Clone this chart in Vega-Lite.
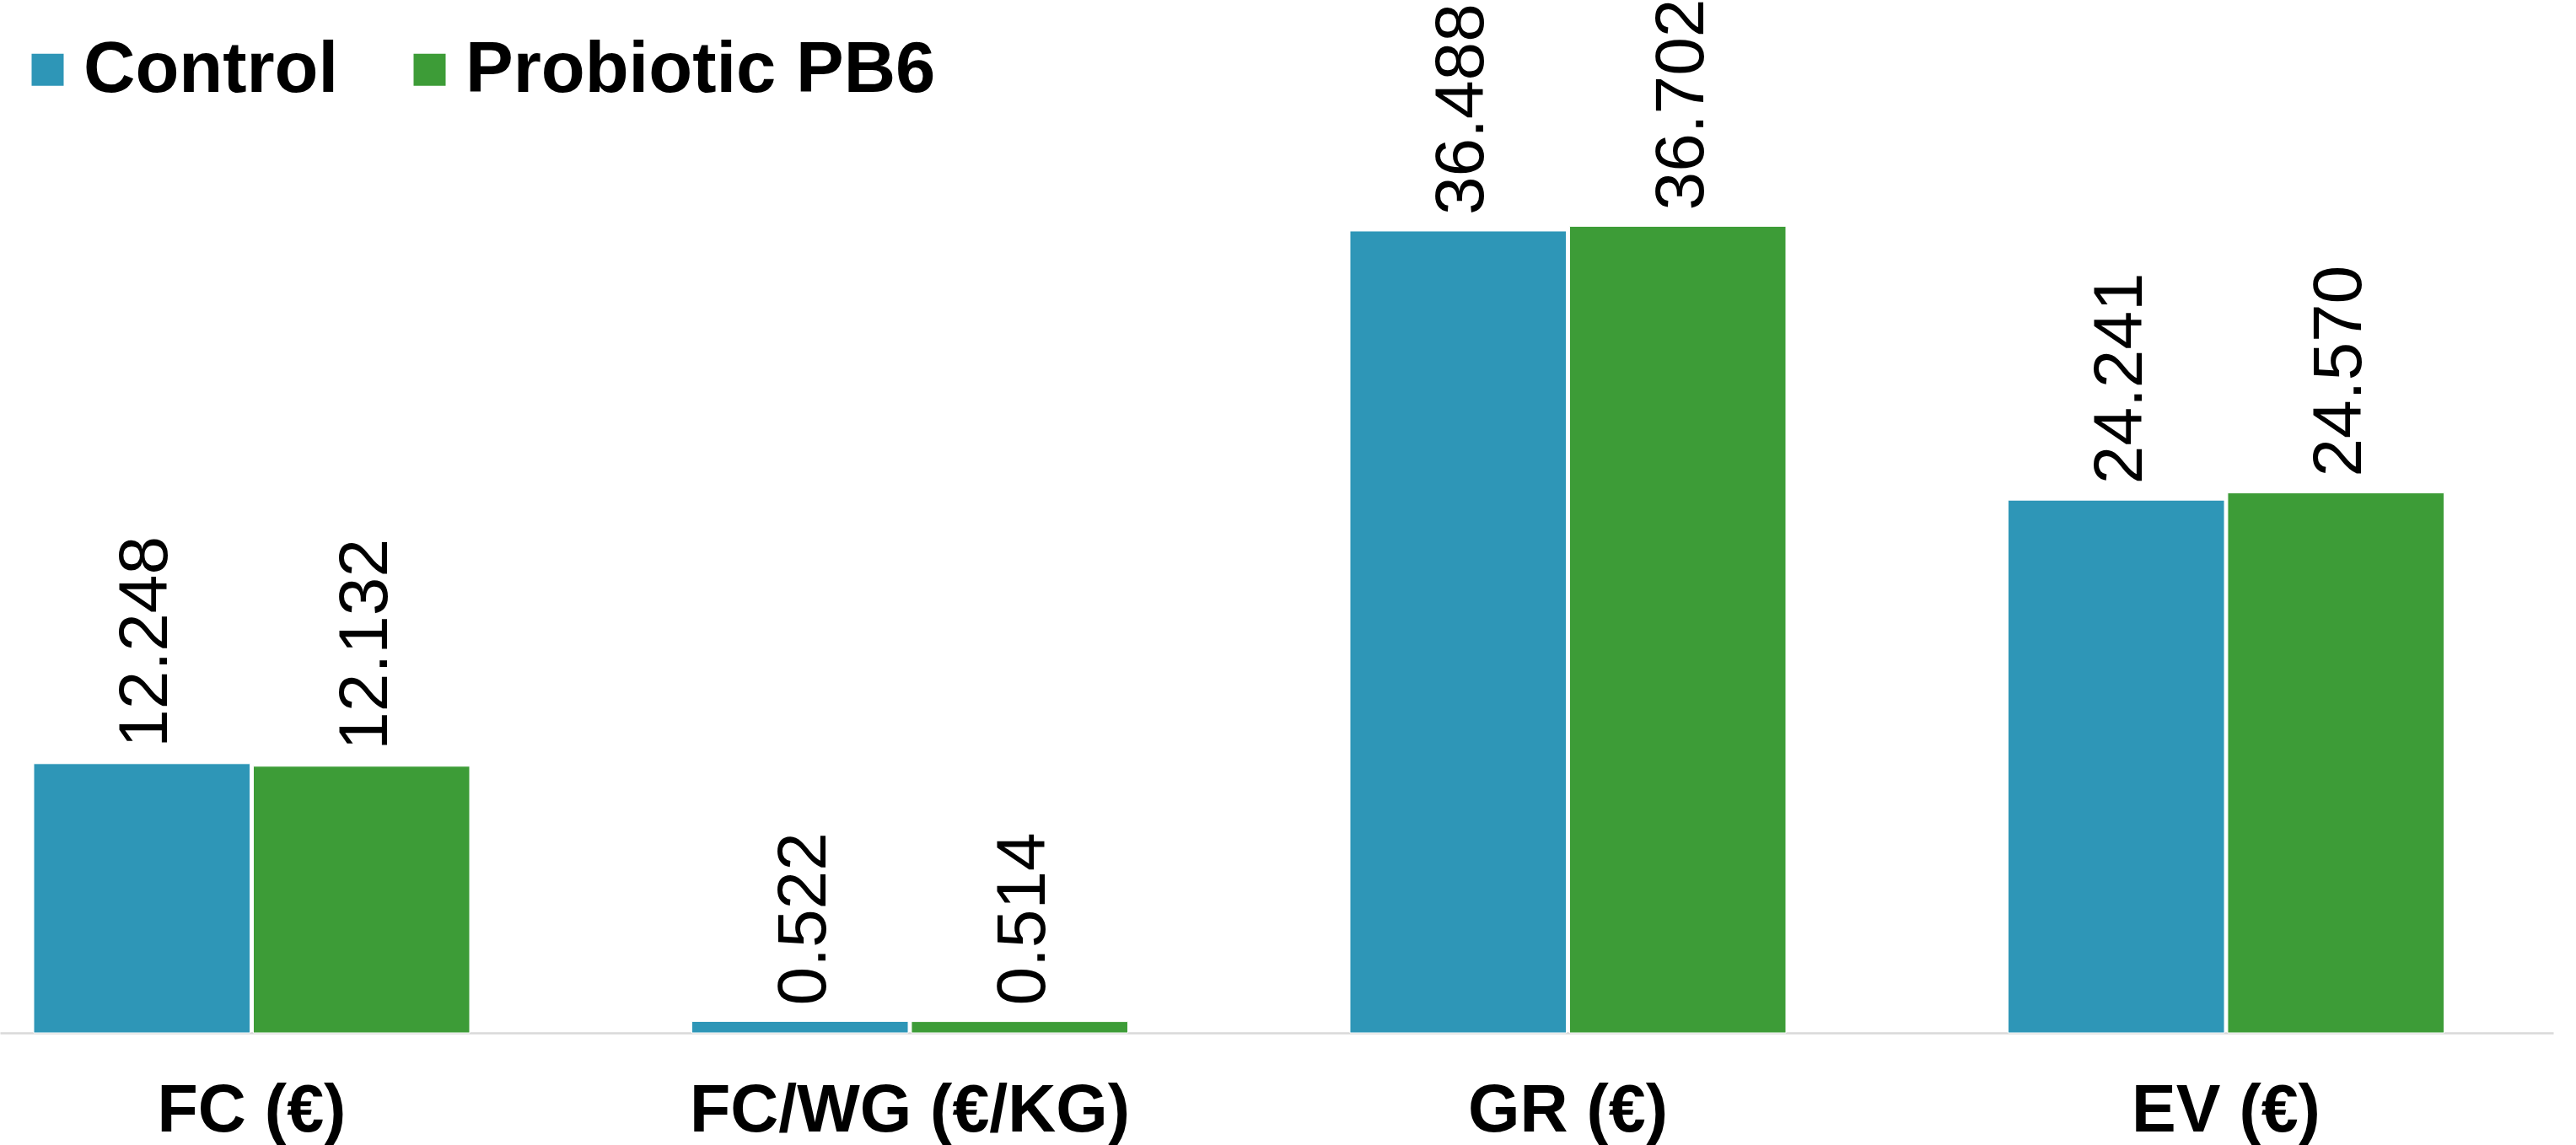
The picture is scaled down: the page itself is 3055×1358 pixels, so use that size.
{
  "$schema": "https://vega.github.io/schema/vega-lite/v6.json",
  "autosize": {"type": "none"},
  "padding": {"left": 0, "top": 0, "right": 27, "bottom": 133},
  "width": 3028,
  "height": 1225,
  "background": "white",
  "config": {
    "view": {"stroke": null},
    "font": "Liberation Sans"
  },
  "data": {
    "values": [
      {"metric": "FC (€)", "group": "Control", "value": 12.248},
      {"metric": "FC (€)", "group": "Probiotic PB6", "value": 12.132},
      {"metric": "FC/WG (€/KG)", "group": "Control", "value": 0.522},
      {"metric": "FC/WG (€/KG)", "group": "Probiotic PB6", "value": 0.514},
      {"metric": "GR (€)", "group": "Control", "value": 36.488},
      {"metric": "GR (€)", "group": "Probiotic PB6", "value": 36.702},
      {"metric": "EV (€)", "group": "Control", "value": 24.241},
      {"metric": "EV (€)", "group": "Probiotic PB6", "value": 24.570}
    ]
  },
  "encoding": {
    "x": {
      "field": "metric",
      "type": "nominal",
      "sort": ["FC (€)", "FC/WG (€/KG)", "GR (€)", "EV (€)"],
      "scale": {"paddingInner": 0.3376, "paddingOuter": 0.1086, "align": 0.236},
      "axis": {
        "title": null,
        "labelAngle": 0,
        "labelFont": "Liberation Sans",
        "labelFontSize": 79,
        "labelFontWeight": "bold",
        "labelColor": "black",
        "labelPadding": 54,
        "labelLimit": 2000,
        "ticks": false,
        "tickSize": 0,
        "domainColor": "#d9d9d9",
        "domainWidth": 2.5,
        "grid": false
      }
    },
    "xOffset": {
      "field": "group",
      "type": "nominal",
      "sort": ["Control", "Probiotic PB6"],
      "scale": {"paddingInner": 0.015, "paddingOuter": 0}
    },
    "y": {
      "field": "value",
      "type": "quantitative",
      "scale": {"domain": [0, 47], "nice": false, "zero": true},
      "axis": null
    }
  },
  "layer": [
    {
      "mark": {"type": "bar", "stroke": "white", "strokeWidth": 1},
      "encoding": {
        "color": {
          "field": "group",
          "type": "nominal",
          "sort": ["Control", "Probiotic PB6"],
          "scale": {"domain": ["Control", "Probiotic PB6"], "range": ["#2e96b7", "#3d9c37"]},
          "legend": {
            "title": null,
            "orient": "none",
            "legendX": 14,
            "legendY": 40,
            "direction": "horizontal",
            "padding": 0,
            "symbolType": "square",
            "symbolSize": 1444,
            "symbolStrokeWidth": 0,
            "labelFont": "Liberation Sans",
            "labelFontSize": 85,
            "labelFontWeight": "bold",
            "labelColor": "black",
            "labelOffset": 0,
            "columnPadding": 65,
            "labelLimit": 1000
          }
        }
      }
    },
    {
      "mark": {
        "type": "text",
        "angle": 270,
        "align": "left",
        "baseline": "middle",
        "dx": 19,
        "dy": 5,
        "font": "Liberation Sans",
        "fontSize": 82,
        "color": "black"
      },
      "encoding": {
        "text": {"field": "value", "type": "quantitative", "format": ".3f"}
      }
    }
  ]
}
